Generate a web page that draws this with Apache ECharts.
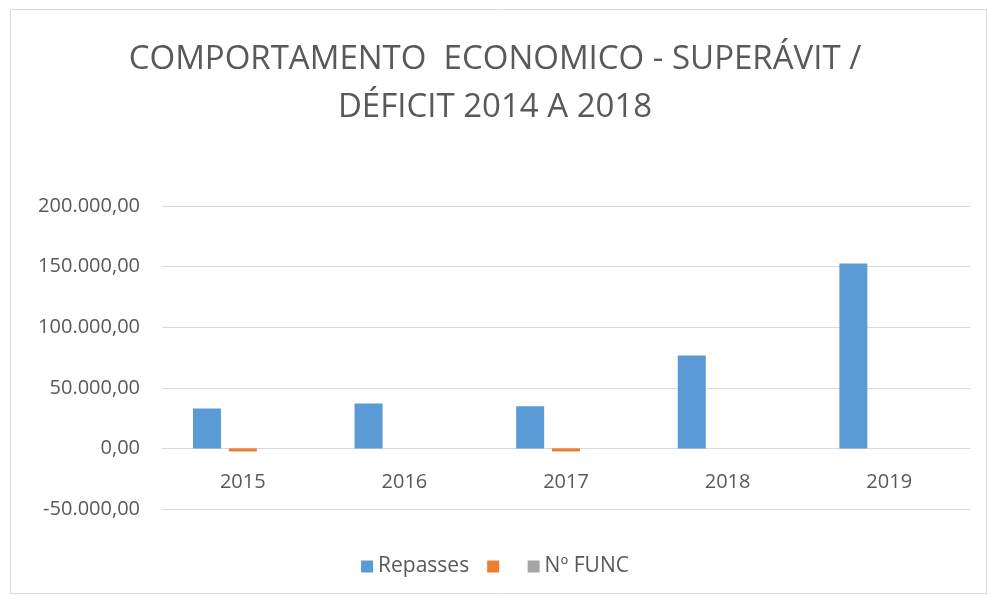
<!DOCTYPE html>
<html>
<head>
<meta charset="utf-8">
<script src="https://cdn.jsdelivr.net/npm/echarts@6/dist/echarts.min.js"></script>
<style>
  html, body { margin: 0; padding: 0; background: #fff; }
  #chart { width: 990px; height: 596px; }
</style>
</head>
<body>
<div id="chart"></div>
<script>
// dados
const anos = ['2015', '2016', '2017', '2018', '2019'];
const repasses = [33000, 37000, 34700, 76700, 152600];
const deficit = [-2500, 0, -2500, 0, 0];
const numFunc = [0, 0, 0, 0, 0];
const yTicks = [-50000, 0, 50000, 100000, 150000, 200000];

const myChart = echarts.init(document.getElementById('chart'));
const cinza = '#595959';

function fmt(v) {
  const neg = v < 0;
  const s = Math.abs(v).toString().replace(/\B(?=(\d{3})+(?!\d))/g, '.');
  return `${neg ? '-' : ''}${s},00`;
}

const option = {
  backgroundColor: '#fff',
  animation: false,
  title: {
    text: 'COMPORTAMENTO  ECONOMICO - SUPERÁVIT /\nDÉFICIT 2014 A 2018',
    left: 'center',
    top: 31,
    textStyle: {
      fontFamily: '"Liberation Sans Narrow", "Open Sans", sans-serif',
      fontSize: 33,
      fontWeight: 'normal',
      color: cinza,
      lineHeight: 48,
    },
  },
  graphic: [{
    type: 'rect',
    shape: { x: 10.5, y: 9.5, width: 976, height: 584 },
    style: { fill: 'none', stroke: '#d9d9d9', lineWidth: 1 },
    silent: true,
  }],
  legend: {
    top: 551,
    left: 'center',
    itemWidth: 12,
    itemHeight: 12,
    itemGap: 18,
    icon: 'rect',
    textStyle: {
      fontFamily: '"Open Sans", sans-serif',
      fontSize: 21,
      color: cinza,
    },
    data: ['Repasses', ' ', 'Nº FUNC'],
  },
  grid: {
    left: 162,
    right: 20,
    top: 206,
    bottom: 87,
  },
  xAxis: {
    type: 'category',
    data: anos,
    offset: -61,
    axisTick: { show: false },
    axisLine: { onZero: false, lineStyle: { color: '#d9d9d9' } },
    axisLabel: {
      margin: 24,
      fontFamily: '"Open Sans", sans-serif',
      fontSize: 20,
      color: cinza,
    },
  },
  yAxis: {
    type: 'value',
    min: yTicks[0],
    max: yTicks[yTicks.length - 1],
    interval: 50000,
    axisLine: { show: false },
    axisTick: { show: false },
    splitLine: { lineStyle: { color: '#d9d9d9', width: 1 } },
    axisLabel: {
      margin: 22,
      fontFamily: '"Open Sans", sans-serif',
      fontSize: 20,
      color: cinza,
      formatter: fmt,
    },
  },
  series: [
    {
      name: 'Repasses',
      type: 'bar',
      data: repasses,
      barWidth: 28,
      barGap: '28%',
      itemStyle: { color: '#5b9bd5' },
    },
    {
      name: ' ',
      type: 'bar',
      data: deficit,
      barWidth: 28,
      barGap: '28%',
      itemStyle: { color: '#ed7d31' },
    },
    {
      name: 'Nº FUNC',
      type: 'bar',
      data: numFunc,
      barWidth: 28,
      barGap: '28%',
      itemStyle: { color: '#a5a5a5' },
    },
  ],
};

myChart.setOption(option);
window.onresize = () => myChart.resize();
</script>
</body>
</html>
